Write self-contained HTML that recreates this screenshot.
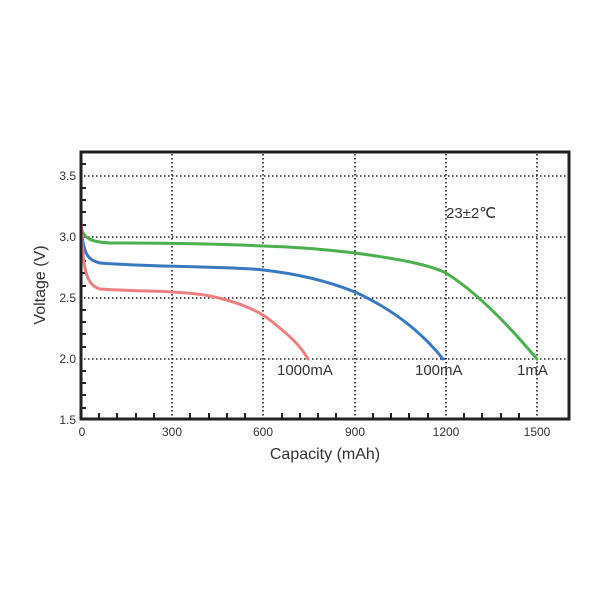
<!DOCTYPE html>
<html><head><style>
body{margin:0;background:#fff}
svg text{font-family:"Liberation Sans",sans-serif;fill:#333}
</style></head><body>
<svg width="600" height="600" viewBox="0 0 600 600">
<g stroke="#222" stroke-width="1.6" stroke-dasharray="1.5,2.5" fill="none">
<line x1="84" y1="176" x2="567" y2="176"/>
<line x1="84" y1="237" x2="567" y2="237"/>
<line x1="84" y1="298" x2="567" y2="298"/>
<line x1="84" y1="359" x2="567" y2="359"/>
<line x1="172" y1="154" x2="172" y2="417"/>
<line x1="263" y1="154" x2="263" y2="417"/>
<line x1="355" y1="154" x2="355" y2="417"/>
<line x1="446" y1="154" x2="446" y2="417"/>
<line x1="537" y1="154" x2="537" y2="417"/>
</g>
<g stroke="#222" stroke-width="2">
<line x1="81" y1="164" x2="86" y2="164"/><line x1="81" y1="188" x2="86" y2="188"/><line x1="81" y1="200" x2="86" y2="200"/><line x1="81" y1="212" x2="86" y2="212"/><line x1="81" y1="225" x2="86" y2="225"/>
<line x1="81" y1="249" x2="86" y2="249"/><line x1="81" y1="261" x2="86" y2="261"/><line x1="81" y1="273" x2="86" y2="273"/><line x1="81" y1="286" x2="86" y2="286"/>
<line x1="81" y1="310" x2="86" y2="310"/><line x1="81" y1="322" x2="86" y2="322"/><line x1="81" y1="334" x2="86" y2="334"/><line x1="81" y1="347" x2="86" y2="347"/>
<line x1="81" y1="371" x2="86" y2="371"/><line x1="81" y1="383" x2="86" y2="383"/><line x1="81" y1="395" x2="86" y2="395"/><line x1="81" y1="408" x2="86" y2="408"/>
<line x1="99" y1="413" x2="99" y2="419"/><line x1="117" y1="413" x2="117" y2="419"/><line x1="136" y1="413" x2="136" y2="419"/><line x1="154" y1="413" x2="154" y2="419"/>
<line x1="190" y1="413" x2="190" y2="419"/><line x1="209" y1="413" x2="209" y2="419"/><line x1="227" y1="413" x2="227" y2="419"/><line x1="245" y1="413" x2="245" y2="419"/>
<line x1="282" y1="413" x2="282" y2="419"/><line x1="300" y1="413" x2="300" y2="419"/><line x1="318" y1="413" x2="318" y2="419"/><line x1="336" y1="413" x2="336" y2="419"/>
<line x1="373" y1="413" x2="373" y2="419"/><line x1="391" y1="413" x2="391" y2="419"/><line x1="409" y1="413" x2="409" y2="419"/><line x1="428" y1="413" x2="428" y2="419"/>
<line x1="464" y1="413" x2="464" y2="419"/><line x1="482" y1="413" x2="482" y2="419"/><line x1="501" y1="413" x2="501" y2="419"/><line x1="519" y1="413" x2="519" y2="419"/>
</g>
<g fill="none" stroke-width="3" stroke-linecap="round">
<path d="M81,228 C84,238 90,242 110,243 C170,243 220,244 263,246 C300,247 330,250 355,253 C400,259 430,265 446,273 C470,288 500,315 537,359" stroke="#4caf50"/>
<path d="M81,225 C83,255 88,260 100,263 C140,266 172,266 200,267 C240,268 255,269 263,270 C300,274 330,282 355,292 C390,308 420,330 443,359" stroke="#3a78c0"/>
<path d="M81,212 C82,270 86,285 100,289 C130,291 160,291 172,292 C190,293 200,294 210,296 C240,302 260,312 270,320 C290,336 300,345 308,359" stroke="#ec8080"/>
</g>
<rect x="81" y="152" width="488" height="267" fill="none" stroke="#222" stroke-width="3"/>
<g font-size="12" text-anchor="end">
<text x="76" y="180">3.5</text><text x="76" y="241">3.0</text><text x="76" y="302">2.5</text><text x="76" y="363">2.0</text><text x="76" y="424">1.5</text>
</g>
<g font-size="12" text-anchor="middle">
<text x="82" y="436">0</text><text x="172" y="436">300</text><text x="263" y="436">600</text><text x="355" y="436">900</text><text x="446" y="436">1200</text><text x="537" y="436">1500</text>
</g>
<text x="325" y="459" font-size="16" text-anchor="middle">Capacity (mAh)</text>
<text x="45" y="285" font-size="16" text-anchor="middle" transform="rotate(-90 45 285)">Voltage (V)</text>
<g font-size="15">
<text x="277" y="375">1000mA</text><text x="415" y="375">100mA</text><text x="517" y="375">1mA</text>
<text x="446" y="218">23±2℃</text>
</g>
</svg>
</body></html>
